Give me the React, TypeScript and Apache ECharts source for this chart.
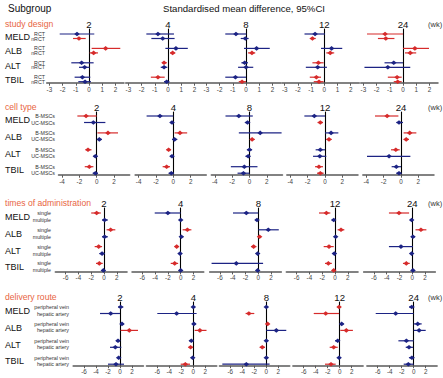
import React, { useEffect, useRef } from "react";
import * as echarts from "echarts";

const WEEKS = ["2", "4", "8", "12", "24"];
const OUTCOMES = ["MELD", "ALB", "ALT", "TBIL"];

const studyDesignGroups = ["RCT", "nRCT"];
const cellTypeGroups = ["B-MSCs", "UC-MSCs"];
const timesGroups = ["single", "multiple"];
const routeGroups = ["peripheral vein", "hepatic artery"];

const ticksStudy = [-3, -2, -1, 0, 1, 2];
const ticksCell = [-4, -2, 0, 2];
const ticksTimes = [-6, -4, -2, 0, 2];
const ticksRoute = [-6, -4, -2, 0, 2];

// rows: [mean, low, high, colour (1 red, 0 blue)]; order MELD a/b, ALB a/b, ALT a/b, TBIL a/b
const studyDesignData = [
  [[-0.91, -2.22, 0.4, 0], [-0.76, -1.21, -0.25, 1], [1.26, 0.2, 2.37, 1], [0.35, 0.05, 0.68, 1], [-0.56, -1.34, 0.35, 0], [-0.33, -0.76, 0.05, 0], [-0.5, -1.09, 0.1, 0], [-0.3, -0.81, 0.15, 0]],
  [[-0.76, -1.64, 0.45, 0], [-0.4, -1.26, 0.5, 0], [0.6, -0.2, 1.5, 0], [0.35, 0.15, 0.55, 1], [-0.3, -0.45, -0.1, 1], [-0.3, -0.55, -0.05, 0], [-0.76, -1.3, -0.25, 1], [-0.1, -0.3, 0.1, 0]],
  [[-0.76, -1.57, 0.03, 0], [-0.05, -0.4, 0.2, 0], [0.8, -0.15, 1.8, 0], [0.45, 0.15, 0.7, 1], [-0.1, -0.35, 0.15, 0], [0, -0.6, 0.55, 0], [-0.8, -1.57, 0, 0], [-0.3, -0.55, 0, 1]],
  [[-0.7, -1.5, 0.05, 0], [-0.9, -1.1, -0.65, 1], [0.55, -0.25, 1.36, 0], [0.45, 0.15, 0.75, 1], [-0.45, -0.9, -0.05, 1], [-0.5, -1.4, 0.2, 0], [-0.6, -1.1, -0.25, 1], [-0.4, -0.8, -0.05, 1]],
  [[-1.36, -2.73, 0, 1], [-1.3, -1.9, -0.65, 1], [0.9, 0, 1.97, 1], [0.55, 0.15, 1.0, 1], [-0.7, -1.4, 0, 0], [-1.15, -2.92, 0.55, 0], [-0.45, -1.15, -0.1, 1], [-0.4, -0.7, -0.1, 1]],
];

const cellTypeData = [
  [[-1.23, -2.23, 0, 1], [-0.38, -1.46, 1.0, 0], [1.3, 0.08, 2.46, 1], [0.3, 0.08, 0.6, 0], [-1.0, -1.3, -0.6, 1], [-0.15, -0.38, 0.08, 0], [-0.85, -1.38, -0.38, 1], [-0.15, -0.46, 0.15, 0]],
  [[-1.54, -3.08, 0, 0], [-0.15, -0.38, 0.08, 0], [0.77, 0.15, 1.6, 1], [0.15, -0.15, 0.46, 0], [-0.54, -0.77, -0.3, 1], [-0.15, -0.38, 0.08, 0], [-0.77, -1.23, -0.38, 1], [-0.23, -0.54, 0.08, 0]],
  [[-1.23, -2.77, 0.38, 0], [-0.23, -0.54, 0.08, 0], [1.23, -1.23, 3.7, 0], [0.3, 0.08, 0.6, 1], [0, -0.3, 0.3, 0], [-0.15, -0.46, 0.08, 0], [-0.6, -2.15, 0.92, 0], [-0.7, -1.38, 0, 0]],
  [[-1.23, -2.38, 0, 0], [-0.54, -0.85, -0.23, 1], [0.7, 0, 1.54, 0], [0.46, 0.15, 0.77, 1], [-0.54, -1.08, 0, 0], [-0.6, -1.38, 0.15, 0], [-0.7, -1.15, -0.23, 1], [-0.54, -0.92, -0.15, 1]],
  [[-1.6, -3.0, -0.3, 1], [-0.23, -0.54, 0.23, 0], [1.0, 0.3, 1.77, 1], [0.6, 0.3, 0.92, 1], [-0.6, -1.15, -0.15, 1], [-1.38, -3.92, 1.08, 0], [-0.54, -1.08, 0, 0], [-0.23, -0.54, 0.08, 0]],
];

const timesData = [
  [[-1.15, -2.0, -0.5, 1], [0.1, -0.3, 0.6, 0], [1.04, 0.4, 1.77, 1], [0.1, -0.3, 0.6, 0], [-0.83, -1.46, -0.3, 1], [-0.3, -0.73, 0.1, 0], [-0.73, -1.25, -0.2, 1], [-0.1, -0.2, 0.1, 0]],
  [[-2.0, -4.06, 0, 0], [0, -0.2, 0.2, 0], [1.04, 0.3, 1.67, 1], [0.1, -0.1, 0.4, 0], [-0.63, -0.94, -0.3, 1], [-0.1, -0.3, 0.1, 0], [-0.94, -1.56, -0.4, 1], [0, -0.2, 0.2, 0]],
  [[-1.87, -3.96, 0, 0], [-0.2, -0.4, 0, 0], [1.56, 0, 3.2, 0], [0.2, 0, 0.4, 1], [-0.73, -1.15, -0.3, 1], [-0.1, -0.3, 0.1, 0], [-3.44, -7.3, 0.75, 0], [-0.1, -0.3, 0.1, 0]],
  [[-1.35, -2.5, -0.73, 1], [-0.2, -0.5, 0, 0], [0.94, 0.4, 1.46, 1], [0.1, -0.1, 0.3, 0], [-0.94, -1.77, -0.2, 1], [-0.1, -0.3, 0.1, 0], [-1.04, -1.56, -0.5, 1], [-0.2, -0.4, 0, 1]],
  [[-2.08, -3.65, -0.5, 1], [-0.1, -0.3, 0.1, 0], [1.35, 0.5, 2.2, 1], [0.1, -0.2, 0.4, 0], [-1.77, -3.65, 0.1, 0], [-0.1, -0.3, 0.1, 0], [-0.94, -1.46, -0.4, 1], [0.1, -0.1, 0.3, 0]],
];

const routeData = [
  [[0.1, -0.33, 0.55, 0], [-1.55, -3.33, 0, 0], [0.33, 0, 0.67, 0], [1.55, 0.1, 3.0, 1], [-0.33, -0.67, 0, 0], [-0.78, -1.67, 0.22, 0], [-0.22, -0.45, 0, 0], [-0.67, -2.0, 0.67, 0]],
  [[0, -0.22, 0.22, 0], [-2.78, -6.0, 0.55, 0], [0.1, -0.1, 0.45, 0], [1.1, 0.22, 2.2, 1], [-0.33, -0.67, 0, 0], [-0.45, -0.78, -0.1, 1], [-0.1, -0.33, 0.1, 0], [-1.33, -2.1, -0.55, 1]],
  [[0, -0.22, 0.22, 0], [-2.9, -3.45, -2.0, 1], [0.22, 0, 0.45, 1], [1.67, 0, 3.33, 0], [0, -0.22, 0.22, 0], [-0.67, -1.1, -0.22, 1], [0, -0.2, 0.2, 0], [-3.33, -7.33, 0.55, 0]],
  [[-0.1, -0.33, 0.1, 1], [-2.33, -4.33, -0.1, 1], [0.33, 0.1, 0.67, 0], [1.1, 0.1, 2.2, 1], [-0.33, -0.78, 0, 0], [-1.0, -1.67, -0.33, 1], [-0.1, -0.3, 0.1, 0], [-1.45, -2.45, -0.67, 1]],
  [[-0.33, -0.78, 0.1, 0], [-3.0, -6.33, 0, 0], [0.67, 0, 1.33, 0], [0.9, 0, 2.0, 0], [-1.22, -2.55, 0, 0], [-0.78, -1.33, -0.1, 0], [-0.3, -0.8, 0.1, 0], [-0.9, -1.67, 0, 0]],
];

const RED = "#d62b2b";
const BLUE = "#1c2384";
const ORANGE = "#e8653f";
const FONT = 'Arial, "Liberation Sans", Helvetica, sans-serif';

const SECTIONS = [
  { title: "study design", groups: studyDesignGroups, data: studyDesignData, ticks: ticksStudy,
    titleY: 24, row0: 34, unit: 4.5, step: 3.2, topPad: 5, botPad: 1.5,
    zeros: [89, 168, 246, 324.3, 403], xUnit: 13.2, min: -3.2, max: 2.65, subRight: 45 },
  { title: "cell type", groups: cellTypeGroups, data: cellTypeData, ticks: ticksCell,
    titleY: 107, row0: 116, unit: 6.5, step: 2.6, topPad: 4, botPad: 2,
    zeros: [96.7, 173.3, 249.5, 325, 401], xUnit: 8.67, min: -4.4, max: 3.8, subRight: 55 },
  { title: "times of administration", groups: timesGroups, data: timesData, ticks: ticksTimes,
    titleY: 203, row0: 213, unit: 7, step: 2.4, topPad: 5, botPad: 1.5,
    zeros: [104, 180.7, 258.3, 335, 412.3], xUnit: 6.4, min: -7.6, max: 3.6, subRight: 51 },
  { title: "delivery route", groups: routeGroups, data: routeData, ticks: ticksRoute,
    titleY: 297, row0: 307, unit: 6.5, step: 2.6, topPad: 5, botPad: 1.5,
    zeros: [120, 193.3, 266.3, 339.7, 413.7], xUnit: 6, min: -7.8, max: 3.9, subRight: 69 },
];

function txt(text: string, x: number, y: number, size: number, color: string, align = "left", weight = "normal") {
  return {
    type: "text",
    x, y,
    silent: true,
    style: {
      text, fill: color, font: `${weight} ${size}px ${FONT}`,
      textAlign: align, textVerticalAlign: "middle", verticalAlign: "middle",
    },
  };
}

function buildOption() {
  const grid: any[] = [];
  const xAxis: any[] = [];
  const yAxis: any[] = [];
  const series: any[] = [];
  const graphic: any[] = [];

  graphic.push(txt("Subgroup", 8, 8, 10, "#111"));
  graphic.push(txt("Standardised mean difference, 95%CI", 244, 8, 9.6, "#111", "center"));

  SECTIONS.forEach((s) => {
    const nUnits = 3 * s.step + 1;
    const gTop = s.row0 - s.topPad;
    const gHeight = s.topPad + nUnits * s.unit + s.botPad;
    const yMin = -s.topPad / s.unit;
    const yMax = nUnits + s.botPad / s.unit;

    graphic.push(txt(s.title, 5, s.titleY, 8.6, ORANGE));
    graphic.push(txt("(wk)", 428, s.titleY, 7.5, "#333"));

    OUTCOMES.forEach((o, p) => {
      const yMid = s.row0 + (p * s.step + 0.5) * s.unit;
      graphic.push(txt(o, 5, yMid + 0.5, 9, "#111"));
      s.groups.forEach((g, i) => {
        const yy = s.row0 + (p * s.step + i) * s.unit;
        graphic.push(txt(g, s.subRight, yy, 5.3, "#333", "right"));
      });
    });

    WEEKS.forEach((w, k) => {
      const gi = grid.length;
      const left = s.zeros[k] + s.min * s.xUnit;
      const width = (s.max - s.min) * s.xUnit;
      grid.push({ left, top: gTop, width, height: gHeight, containLabel: false });
      graphic.push(txt(w, s.zeros[k], s.titleY, 9.6, "#111", "center"));
      xAxis.push({
        type: "value", gridIndex: gi, min: s.min, max: s.max,
        axisLine: { show: true, onZero: false, lineStyle: { color: "#5a5a5a", width: 1.6 } },
        axisTick: { show: true, customValues: s.ticks, length: 2.5, lineStyle: { color: "#5a5a5a", width: 1 } },
        axisLabel: { show: true, customValues: s.ticks, fontSize: 6.3, color: "#444", margin: 3, fontFamily: FONT },
        splitLine: { show: false },
      });
      yAxis.push({
        type: "value", gridIndex: gi, inverse: true, min: yMin, max: yMax,
        axisLine: { show: true, onZero: true, lineStyle: { color: "#000", width: 1.1 } },
        axisTick: { show: false }, axisLabel: { show: false }, splitLine: { show: false },
      });
      const rows = s.data[k].map((r: number[], idx: number) => {
        const p = Math.floor(idx / 2);
        const i = idx % 2;
        return [r[0], p * s.step + i, r[1], r[2], r[3]];
      });
      series.push({
        type: "custom", xAxisIndex: gi, yAxisIndex: gi, clip: false,
        encode: { x: [0, 2, 3], y: 1 },
        data: rows,
        renderItem: (params: any, api: any) => {
          const yv = api.value(1);
          const m = api.coord([api.value(0), yv]);
          const l = api.coord([api.value(2), yv]);
          const h = api.coord([api.value(3), yv]);
          const c = api.value(4) === 1 ? RED : BLUE;
          return {
            type: "group",
            children: [
              { type: "line", shape: { x1: l[0], y1: l[1], x2: h[0], y2: h[1] }, style: { stroke: c, lineWidth: 1.2 } },
              { type: "polygon", shape: { points: [[m[0] - 2.8, m[1]], [m[0], m[1] - 2.3], [m[0] + 2.8, m[1]], [m[0], m[1] + 2.3]] }, style: { fill: c } },
            ],
          };
        },
      });
    });
  });

  return { animation: false, backgroundColor: "#fff", grid, xAxis, yAxis, series, graphic };
}

export default function App() {
  const ref = useRef<HTMLDivElement>(null);
  useEffect(() => {
    document.body.style.margin = "0";
    if (!ref.current) return;
    const chart = echarts.init(ref.current, undefined, { renderer: "svg" });
    chart.setOption(buildOption() as any);
    return () => chart.dispose();
  }, []);
  return <div ref={ref} style={{ width: 443, height: 378 }} />;
}
